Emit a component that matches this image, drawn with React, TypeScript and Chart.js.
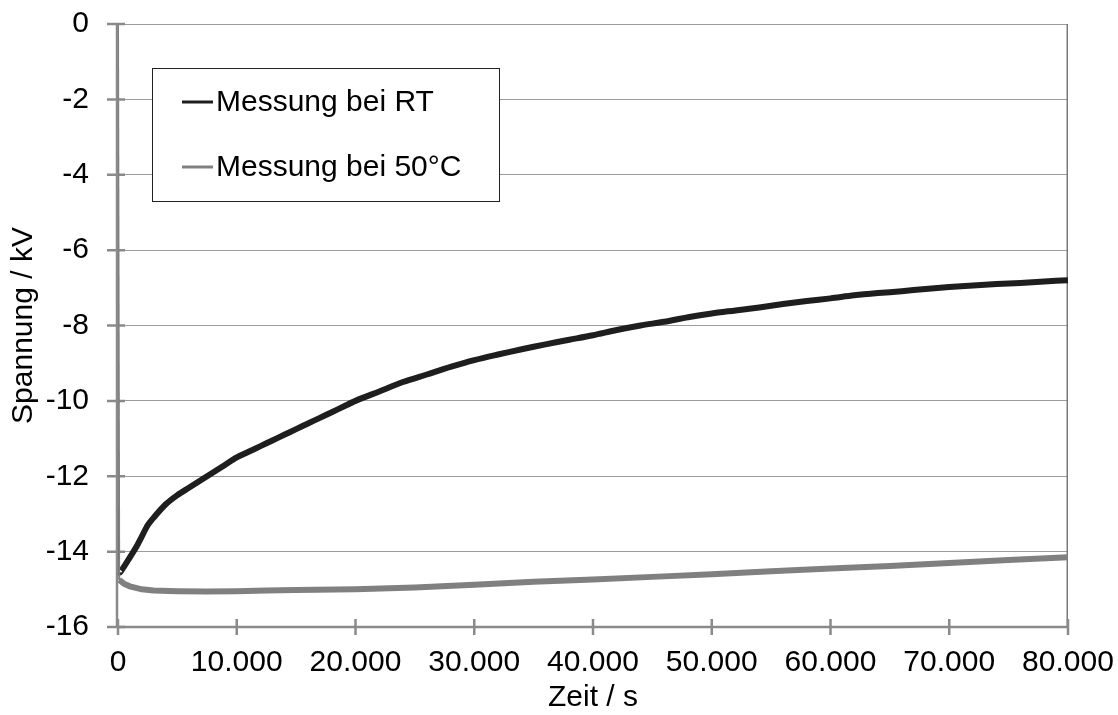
import React, { useEffect, useRef } from "react";
import { Chart, registerables } from "chart.js";

Chart.register(...registerables);

// Time (s) and voltage (kV) – Messung bei RT
const rtTime = [
  0, 100, 500, 1000, 1500, 2000, 2500, 3000, 4000, 5000, 6000, 7000, 8000, 9000,
  10000, 11000, 12000, 13000, 14000, 15000, 16000, 17000, 18000, 19000, 20000,
  22000, 24000, 26000, 28000, 30000, 32000, 34000, 36000, 38000, 40000, 42000,
  44000, 46000, 48000, 50000, 52000, 54000, 56000, 58000, 60000, 62000, 64000,
  66000, 68000, 70000, 72000, 74000, 76000, 78000, 80000,
];
const rtVoltage = [
  -11.5, -14.55, -14.4, -14.15, -13.9, -13.6, -13.3, -13.1, -12.75, -12.5, -12.3,
  -12.1, -11.9, -11.7, -11.5, -11.35, -11.2, -11.05, -10.9, -10.75, -10.6, -10.45,
  -10.3, -10.15, -10.0, -9.75, -9.5, -9.3, -9.1, -8.92, -8.77, -8.63, -8.5, -8.38,
  -8.26, -8.12, -8.0, -7.9, -7.78, -7.68, -7.6, -7.52, -7.43, -7.35, -7.28, -7.2,
  -7.14, -7.09, -7.03, -6.98, -6.94, -6.9, -6.87, -6.83, -6.8,
];

// Time (s) and voltage (kV) – Messung bei 50°C
const t50Time = [
  0, 100, 500, 1000, 2000, 3000, 5000, 7500, 10000, 12500, 15000, 20000, 25000,
  30000, 35000, 40000, 45000, 50000, 55000, 60000, 65000, 70000, 75000, 80000,
];
const t50Voltage = [
  0, -14.75, -14.85, -14.92, -15.0, -15.03, -15.05, -15.06, -15.05, -15.03, -15.02,
  -15.0, -14.95, -14.88, -14.8, -14.74, -14.67, -14.6, -14.52, -14.45, -14.38,
  -14.3, -14.22, -14.15,
];

const seriesNames = ["Messung bei RT", "Messung bei 50°C"];
const seriesColors = ["#1e1e1e", "#808080"];
const xTitle = "Zeit / s";
const yTitle = "Spannung / kV";

const FONT = "'Liberation Sans', Arial, sans-serif";

function fmtThousands(v: number): string {
  const s = Math.round(v).toString();
  return s.replace(/\B(?=(\d{3})+(?!\d))/g, ".");
}

function zeroPad(s: any) {
  s.paddingTop = 0;
  s.paddingBottom = 0;
  s.paddingLeft = 0;
  s.paddingRight = 0;
}

const framePlugin = {
  id: "frame",
  beforeDatasetsDraw(chart: any) {
    const { ctx, chartArea } = chart;
    const { left, right, top, bottom } = chartArea;
    const ys = chart.scales.y;
    const xs = chart.scales.x;
    ctx.save();
    // right border
    ctx.strokeStyle = "#7a7a7a";
    ctx.lineWidth = 1.5;
    ctx.beginPath();
    ctx.moveTo(right - 0.75, top);
    ctx.lineTo(right - 0.75, bottom);
    ctx.stroke();
    // axes lines
    ctx.strokeStyle = "#8a8a8a";
    ctx.lineWidth = 2.5;
    ctx.beginPath();
    ctx.moveTo(left - 1, top);
    ctx.lineTo(left - 1, bottom);
    ctx.moveTo(left - 1, bottom);
    ctx.lineTo(right, bottom);
    ctx.stroke();
    // y ticks (cross)
    ctx.beginPath();
    ys.ticks.forEach((t: any) => {
      const py = ys.getPixelForValue(t.value);
      ctx.moveTo(left - 11, py);
      ctx.lineTo(left + 7, py);
    });
    // x ticks (cross)
    xs.ticks.forEach((t: any) => {
      const px = xs.getPixelForValue(t.value);
      ctx.moveTo(px, bottom - 8);
      ctx.lineTo(px, bottom + 8);
    });
    ctx.stroke();
    ctx.restore();
  },
  afterDatasetsDraw(chart: any) {
    const { ctx } = chart;
    ctx.save();
    const bx = 152, by = 68, bw = 347, bh = 133;
    ctx.fillStyle = "#ffffff";
    ctx.fillRect(bx, by, bw, bh);
    ctx.strokeStyle = "#222222";
    ctx.lineWidth = 1;
    ctx.strokeRect(bx + 0.5, by + 0.5, bw, bh);
    const rows = [102, 167];
    ctx.font = `30px ${FONT}`;
    ctx.textBaseline = "middle";
    ctx.textAlign = "left";
    rows.forEach((ry, i) => {
      ctx.strokeStyle = seriesColors[i];
      ctx.lineWidth = 3;
      ctx.beginPath();
      ctx.moveTo(182, ry);
      ctx.lineTo(213, ry);
      ctx.stroke();
      ctx.fillStyle = "#000000";
      ctx.fillText(seriesNames[i], 216, ry + 1);
    });
    ctx.restore();
  },
};

export default function App() {
  const canvasRef = useRef<HTMLCanvasElement | null>(null);

  useEffect(() => {
    document.body.style.margin = "0";
    const canvas = canvasRef.current;
    if (!canvas) return;

    const rtData = rtTime.map((t, i) => ({ x: t, y: rtVoltage[i] }));
    const t50Data = t50Time.map((t, i) => ({ x: t, y: t50Voltage[i] }));

    const chart = new Chart(canvas, {
      type: "line",
      data: {
        datasets: [
          {
            label: seriesNames[1],
            data: t50Data,
            borderColor: seriesColors[1],
            borderWidth: 6,
            pointRadius: 0,
            tension: 0,
            segment: {
              borderWidth: (c: any) => (c.p0DataIndex === 0 ? 2 : 6),
            },
          } as any,
          {
            label: seriesNames[0],
            data: rtData,
            borderColor: seriesColors[0],
            borderWidth: 6,
            pointRadius: 0,
            tension: 0.3,
            segment: {
              borderWidth: (c: any) => (c.p0DataIndex === 0 ? 1.5 : 6),
            },
          } as any,
        ],
      },
      options: {
        animation: false,
        responsive: false,
        layout: { padding: { top: 24, right: 50, left: 0, bottom: 0 } },
        plugins: {
          legend: { display: false },
          tooltip: { enabled: false },
        },
        scales: {
          x: {
            type: "linear",
            min: 0,
            max: 80000,
            afterFit: (s: any) => {
              s.height = 88;
              zeroPad(s);
            },
            ticks: {
              stepSize: 10000,
              padding: 18,
              color: "#000",
              maxRotation: 0,
              font: { family: FONT, size: 30, lineHeight: 1.2 },
              callback: (v: any) => fmtThousands(Number(v)),
            },
            grid: { display: false, drawTicks: false },
            border: { display: false },
            title: {
              display: true,
              text: xTitle,
              color: "#000",
              font: { family: FONT, size: 30, lineHeight: 1 },
              padding: { top: 0, bottom: 2 },
            },
          },
          y: {
            type: "linear",
            min: -16,
            max: 0,
            afterFit: (s: any) => {
              s.width = 118;
              zeroPad(s);
            },
            ticks: {
              stepSize: 2,
              padding: 29,
              color: "#000",
              font: { family: FONT, size: 30, lineHeight: 1.2 },
            },
            grid: {
              color: "#9c9c9c",
              lineWidth: 1,
              drawTicks: false,
            },
            border: { display: false },
            title: {
              display: true,
              text: yTitle,
              color: "#000",
              font: { family: FONT, size: 30, lineHeight: 1 },
              padding: { top: 9, bottom: 0 },
            },
          },
        },
      },
      plugins: [framePlugin],
    });

    return () => chart.destroy();
  }, []);

  return (
    <div style={{ width: 1118, height: 715, position: "relative" }}>
      <canvas ref={canvasRef} width={1118} height={715} />
    </div>
  );
}
